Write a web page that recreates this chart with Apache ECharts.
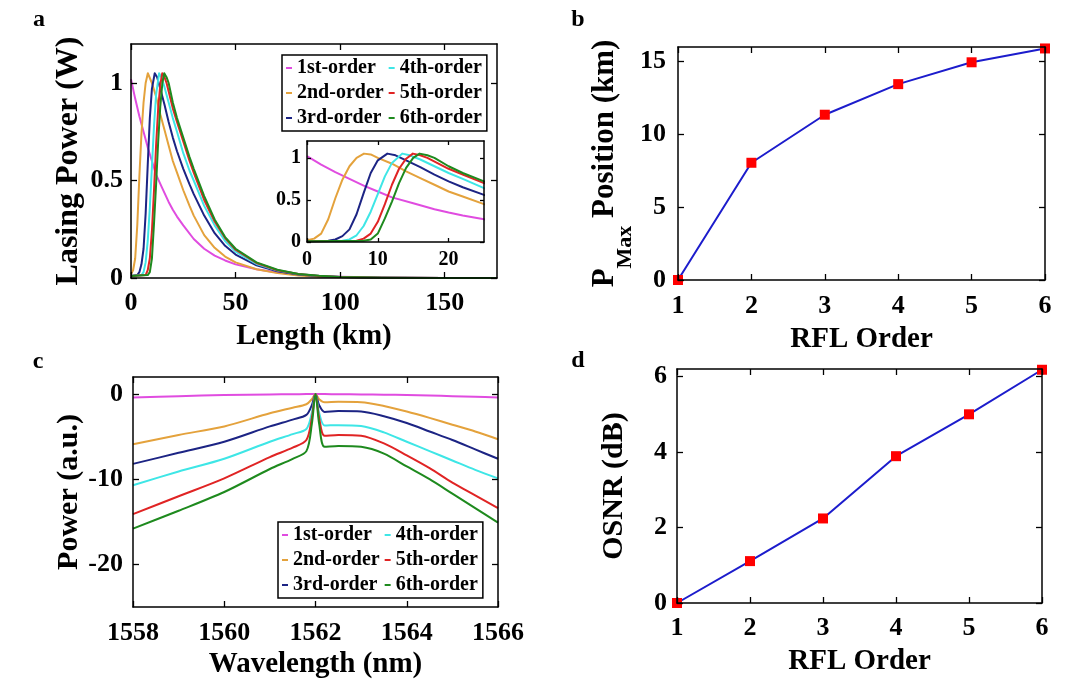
<!DOCTYPE html>
<html>
<head>
<meta charset="utf-8">
<script src="https://cdn.jsdelivr.net/npm/echarts@6/dist/echarts.min.js"></script>
<style>
  html, body { margin: 0; padding: 0; background: #fff; }
  #chart { width: 1080px; height: 693px; }
</style>
</head>
<body>
<div id="chart"></div>
<script>
const FONT = '"Liberation Serif", "Times New Roman", serif';

// ---- data ----
const orderNames = ['1st-order', '2nd-order', '3rd-order', '4th-order', '5th-order', '6th-order'];
const orderColors = ['#e04ce0', '#e4a23c', '#1c2484', '#3ee6e6', '#e02424', '#1e8a1e'];

// panel a: lasing power (W) vs fibre length (km)
const lasing1st = [[0,1.02],[2,0.92],[4,0.83],[6,0.75],[8,0.67],[10,0.6],[12,0.53],[15,0.46],[18,0.39],[20,0.35],[22,0.315],[25,0.27],[30,0.2],[35,0.15],[40,0.115],[45,0.09],[50,0.07],[60,0.045],[70,0.028],[80,0.017],[90,0.01],[100,0.006],[120,0.002],[150,0.0005],[175,0]];
const lasing2nd = [[0,0.02],[1,0.04],[2,0.1],[3,0.27],[4,0.52],[5,0.74],[6,0.9],[7,1.0],[8.05,1.05],[9,1.04],[10,1.0],[12,0.93],[14,0.84],[16,0.76],[18,0.68],[20,0.6],[22,0.54],[25,0.45],[28,0.37],[30,0.32],[35,0.22],[40,0.155],[45,0.11],[50,0.08],[60,0.045],[70,0.025],[80,0.013],[90,0.007],[100,0.004],[120,0.001],[150,0],[175,0]];
const lasing3rd = [[0,0.01],[3,0.015],[4,0.03],[5,0.07],[6,0.15],[7,0.33],[8,0.58],[9,0.82],[10,0.97],[11.35,1.05],[12.5,1.03],[14,0.97],[16,0.89],[18,0.8],[20,0.72],[22,0.65],[25,0.56],[28,0.48],[30,0.43],[35,0.32],[40,0.23],[45,0.165],[50,0.12],[60,0.065],[70,0.035],[80,0.018],[90,0.009],[100,0.005],[120,0.001],[150,0],[175,0]];
const lasing4th = [[0,0.01],[5,0.015],[6,0.03],[7,0.08],[8,0.19],[9,0.36],[10,0.57],[11,0.78],[12,0.94],[13.45,1.05],[14.5,1.03],[16,0.98],[18,0.9],[20,0.82],[22,0.75],[25,0.64],[28,0.55],[30,0.5],[35,0.37],[40,0.27],[45,0.19],[50,0.135],[60,0.072],[70,0.038],[80,0.02],[90,0.01],[100,0.005],[120,0.001],[150,0],[175,0]];
const lasing5th = [[0,0.01],[7,0.015],[8,0.04],[9,0.1],[10,0.24],[11,0.45],[12,0.68],[13,0.87],[14,0.99],[14.95,1.05],[16,1.03],[17,1.0],[20,0.87],[22,0.8],[25,0.7],[28,0.6],[30,0.54],[35,0.4],[40,0.29],[45,0.205],[50,0.145],[60,0.077],[70,0.04],[80,0.02],[90,0.01],[100,0.005],[120,0.001],[150,0],[175,0]];
const lasing6th = [[0,0.01],[8,0.015],[9,0.03],[10,0.1],[11,0.28],[12,0.48],[13,0.7],[14,0.88],[15,1.0],[15.9,1.05],[17,1.03],[18,1.0],[20,0.9],[22,0.82],[25,0.72],[28,0.62],[30,0.56],[35,0.42],[40,0.3],[45,0.21],[50,0.15],[60,0.08],[70,0.042],[80,0.021],[90,0.011],[100,0.005],[120,0.001],[150,0],[175,0]];

// panel c: spectra (a.u.) vs wavelength (nm)
const wavelengthNm = [1558,1559,1560,1561,1561.5,1561.8,1561.92,1562,1562.08,1562.2,1562.5,1563,1563.5,1564,1564.5,1565,1565.5,1566];
const spec1st = [-0.4,-0.25,-0.12,-0.04,-0.02,-0.01,0,0,0,-0.01,-0.02,-0.04,-0.07,-0.12,-0.18,-0.25,-0.32,-0.4];
const spec2nd = [-5.9,-4.8,-3.8,-2.25,-1.6,-1.2,-0.6,0,-0.6,-0.95,-0.9,-0.95,-1.4,-2.05,-2.8,-3.6,-4.4,-5.3];
const spec3rd = [-8.2,-6.9,-5.6,-3.8,-3.0,-2.45,-1.3,0,-1.3,-2.1,-2.0,-2.05,-2.6,-3.4,-4.4,-5.4,-6.5,-7.6];
const spec4th = [-10.7,-9.1,-7.6,-5.6,-4.7,-4.1,-2.2,0,-2.2,-3.7,-3.65,-3.75,-4.5,-5.6,-6.7,-7.8,-8.9,-9.9];
const spec5th = [-14.1,-12.0,-9.9,-7.4,-6.3,-5.4,-2.8,0,-2.8,-4.9,-4.8,-4.9,-5.8,-7.2,-8.7,-10.4,-11.9,-13.4];
const spec6th = [-15.8,-13.7,-11.5,-8.8,-7.6,-6.7,-3.5,0,-3.5,-6.2,-6.1,-6.2,-7.0,-8.5,-10.0,-11.7,-13.4,-15.1];

// panels b and d
const rflOrder = [1, 2, 3, 4, 5, 6];
const pmaxPosition = [0, 8.05, 11.35, 13.45, 14.95, 15.9];
const osnrDb = [0, 1.11, 2.24, 3.89, 5.0, 6.18];

// tick values
const ticksLength = [0, 50, 100, 150];
const ticksPower = [0, 0.5, 1];
const ticksInsetX = [0, 10, 20];
const ticksWave = [1558, 1560, 1562, 1564, 1566];
const ticksSpec = [-20, -10, 0];
const ticksOrder = [1, 2, 3, 4, 5, 6];
const ticksPmax = [0, 5, 10, 15];
const ticksOsnr = [0, 2, 4, 6];

const lasingCurves = [lasing1st, lasing2nd, lasing3rd, lasing4th, lasing5th, lasing6th];
const specCurves = [spec1st, spec2nd, spec3rd, spec4th, spec5th, spec6th];

// ---- layout helpers ----
const grids = [], xAxes = [], yAxes = [];

function axis(dir, g, pos, s, primary) {
  return {
    type: 'value', gridIndex: g, position: pos, min: s.min, max: s.max,
    axisLine: { show: true, onZero: false, lineStyle: { color: '#000', width: 1.5 } },
    axisTick: { show: true, inside: true, length: s.tick || 6, customValues: s.ticks,
                lineStyle: { color: '#000', width: 1.3 } },
    axisLabel: { show: primary, customValues: s.ticks, margin: s.margin, color: '#000',
                 fontFamily: FONT, fontWeight: 'bold', fontSize: s.size || 26,
                 formatter: v => String(v) },
    splitLine: { show: false },
    name: primary ? (s.name || '') : '',
    nameLocation: 'middle', nameGap: s.nameGap,
    nameRotate: dir === 'y' ? 90 : 0,
    nameTextStyle: Object.assign({ color: '#000', fontFamily: FONT, fontWeight: 'bold',
                                   fontSize: s.nameSize || 29 }, s.nameStyle || {}),
    z: 5
  };
}

function addPanel(rect, xs, ys, extra) {
  const g = grids.length;
  grids.push(Object.assign({ left: rect[0], top: rect[1], width: rect[2], height: rect[3],
                             containLabel: false, outerBoundsMode: 'none' }, extra || {}));
  const xi = xAxes.length, yi = yAxes.length;
  xAxes.push(axis('x', g, 'bottom', xs, true), axis('x', g, 'top', xs, false));
  yAxes.push(axis('y', g, 'left', ys, true), axis('y', g, 'right', ys, false));
  return { x: xi, y: yi };
}

const pA = addPanel([131, 44, 366, 234],
  { min: 0, max: 175, ticks: ticksLength, margin: 12, name: 'Length (km)', nameGap: 44 },
  { min: 0, max: 1.2, ticks: ticksPower, margin: 8, name: 'Lasing Power (W)', nameGap: 46, nameSize: 32 });
const pInset = addPanel([307, 141, 177, 101],
  { min: 0, max: 25, ticks: ticksInsetX, margin: 8, size: 20, tick: 4 },
  { min: 0, max: 1.2, ticks: ticksPower, margin: 6, size: 20, tick: 4 },
  { show: true, backgroundColor: '#fff', borderWidth: 0 });
const pB = addPanel([678, 47, 367, 233],
  { min: 1, max: 6, ticks: ticksOrder, margin: 13, name: 'RFL Order', nameGap: 45 },
  { min: 0, max: 16, ticks: ticksPmax, margin: 12, nameGap: 38,
    name: '{p|P}{s|Max}{p| Position (km)}',
    nameStyle: { rich: {
      p: { fontFamily: FONT, fontWeight: 'bold', fontSize: 31, lineHeight: 33, verticalAlign: 'top', color: '#000' },
      s: { fontFamily: FONT, fontWeight: 'bold', fontSize: 22, lineHeight: 22, verticalAlign: 'top', padding: [25, 0, 0, 0], color: '#000' }
    } } });
const pC = addPanel([133, 377, 365, 230],
  { min: 1558, max: 1566, ticks: ticksWave, margin: 13, name: 'Wavelength (nm)', nameGap: 43 },
  { min: -25, max: 2, ticks: ticksSpec, margin: 10, name: 'Power (a.u.)', nameGap: 49, nameSize: 30 });
const pD = addPanel([677, 369, 365, 234],
  { min: 1, max: 6, ticks: ticksOrder, margin: 12, name: 'RFL Order', nameGap: 44 },
  { min: 0, max: 6.2, ticks: ticksOsnr, margin: 10, name: 'OSNR (dB)', nameGap: 48, nameSize: 30 });

// ---- series ----
const series = [];
lasingCurves.forEach((curve, i) => {
  [pA, pInset].forEach(p => series.push({
    type: 'line', name: orderNames[i], xAxisIndex: p.x, yAxisIndex: p.y,
    data: curve, showSymbol: false, symbol: 'none', smooth: false,
    color: orderColors[i], lineStyle: { width: 2, color: orderColors[i], join: 'round' }, z: 2
  }));
});
specCurves.forEach((vals, i) => {
  series.push({
    type: 'line', name: orderNames[i], xAxisIndex: pC.x, yAxisIndex: pC.y,
    data: wavelengthNm.map((w, k) => [w, vals[k]]), showSymbol: false, symbol: 'none',
    smooth: 0.3,
    color: orderColors[i], lineStyle: { width: 2, color: orderColors[i], join: 'round' }, z: 2
  });
});
[[pB, pmaxPosition], [pD, osnrDb]].forEach(([p, vals]) => {
  series.push({
    type: 'line', xAxisIndex: p.x, yAxisIndex: p.y,
    data: rflOrder.map((o, k) => [o, vals[k]]),
    symbol: 'rect', symbolSize: 10, clip: false,
    lineStyle: { color: '#1c1ccc', width: 2 },
    itemStyle: { color: '#ff0000' }, z: 3
  });
});

function legendAt(left, top) {
  return {
    data: orderNames, left: left, top: top, orient: 'vertical', height: 80,
    icon: 'rect', itemWidth: 6, itemHeight: 2, itemGap: 5,
    padding: [3, 5, 3, 4], borderColor: '#000', borderWidth: 1.5, backgroundColor: '#fff',
    textStyle: { color: '#000', fontFamily: FONT, fontWeight: 'bold', fontSize: 20 },
    selectedMode: false, z: 10
  };
}

function panelLetter(txt, x, y) {
  return { type: 'text', x: x, y: y, z: 20,
           style: { text: txt, fill: '#000', font: 'bold 24px "Liberation Serif"',
                    textAlign: 'center', textVerticalAlign: 'middle' } };
}

const chart = echarts.init(document.getElementById('chart'));
chart.setOption({
  animation: false,
  backgroundColor: '#fff',
  grid: grids,
  xAxis: xAxes,
  yAxis: yAxes,
  legend: [legendAt(282, 55), legendAt(278, 522)],
  series: series,
  graphic: [panelLetter('a', 39, 20), panelLetter('b', 578, 20),
            panelLetter('c', 38, 362), panelLetter('d', 578, 361)]
});
</script>
</body>
</html>
